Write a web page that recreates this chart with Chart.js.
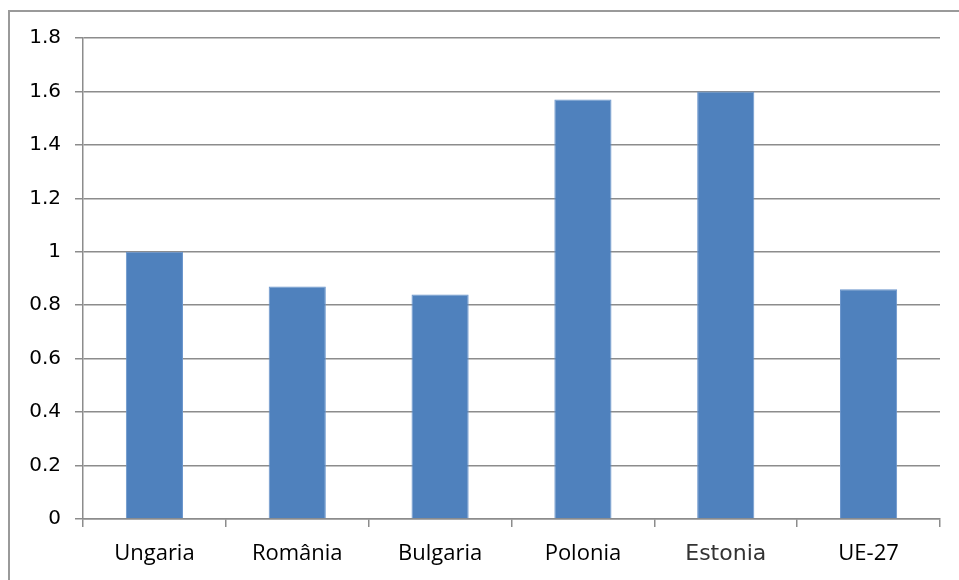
<!DOCTYPE html>
<html>
<head>
<meta charset="utf-8">
<script src="https://cdn.jsdelivr.net/npm/chart.js@4.4.0/dist/chart.umd.min.js"></script>
<style>
  html, body { margin: 0; padding: 0; background: #fff; overflow: hidden; }
  #frame { position: absolute; left: 8px; top: 10px; width: 960px; height: 600px;
           border: 2px solid #9a9a9a; box-sizing: border-box; }
  #wrap { position: absolute; left: 0; top: 0; width: 959px; height: 580px; }
</style>
</head>
<body>
<div id="frame"></div>
<div id="wrap"><canvas id="chart"></canvas></div>
<script>
// countries and values
var countries = ["Ungaria", "România", "Bulgaria", "Polonia", "Estonia", "UE-27"];
var values = [1.0, 0.87, 0.84, 1.57, 1.60, 0.86];
var yTicks = [0, 0.2, 0.4, 0.6, 0.8, 1, 1.2, 1.4, 1.6, 1.8];

var gridGrey = "#8c8c8c";

var ctx = document.getElementById('chart');
var myChart = new Chart(ctx, {
    type: 'bar',
    data: {
        labels: countries,
        datasets: [{
            data: values,
            backgroundColor: "#4f81bd",
            borderColor: "#6a95cc",
            borderWidth: 1,
            barPercentage: 0.4,
            categoryPercentage: 1.0
        }]
    },
    options: {
        responsive: true,
        maintainAspectRatio: false,
        animation: false,
        layout: {
            padding: { left: 0, right: 19, top: 38, bottom: 0 }
        },
        plugins: {
            legend: { display: false },
            tooltip: { enabled: false }
        },
        scales: {
            x: {
                grid: {
                    offset: true,
                    drawOnChartArea: false,
                    drawTicks: true,
                    tickLength: 8,
                    color: gridGrey,
                    lineWidth: 1.5
                },
                border: { color: gridGrey, width: 1.5 },
                ticks: {
                    padding: 14,
                    // Estonia label is set in a different face in the original
                    color: function (c) { return c.index === 4 ? "#333" : "#000"; },
                    font: function (c) {
                        if (c.index === 4) return { family: "'DejaVu Sans', sans-serif", size: 22 };
                        return { family: "'Open Sans', sans-serif", size: 22 };
                    }
                },
                afterFit: function (scale) { scale.height = 61; }
            },
            y: {
                min: 0,
                max: 1.8,
                afterBuildTicks: function (scale) {
                    scale.ticks = yTicks.map(function (v) { return { value: v }; });
                },
                grid: {
                    color: gridGrey,
                    lineWidth: 1.5,
                    tickLength: 8
                },
                border: { color: gridGrey, width: 1.5 },
                ticks: {
                    color: "#000",
                    padding: 14,
                    font: { family: "'DejaVu Sans', sans-serif", size: 20 },
                    callback: function (v) { return String(Number(v.toFixed(1))); }
                },
                afterFit: function (scale) { scale.width = 83; }
            }
        }
    }
});
</script>
</body>
</html>
